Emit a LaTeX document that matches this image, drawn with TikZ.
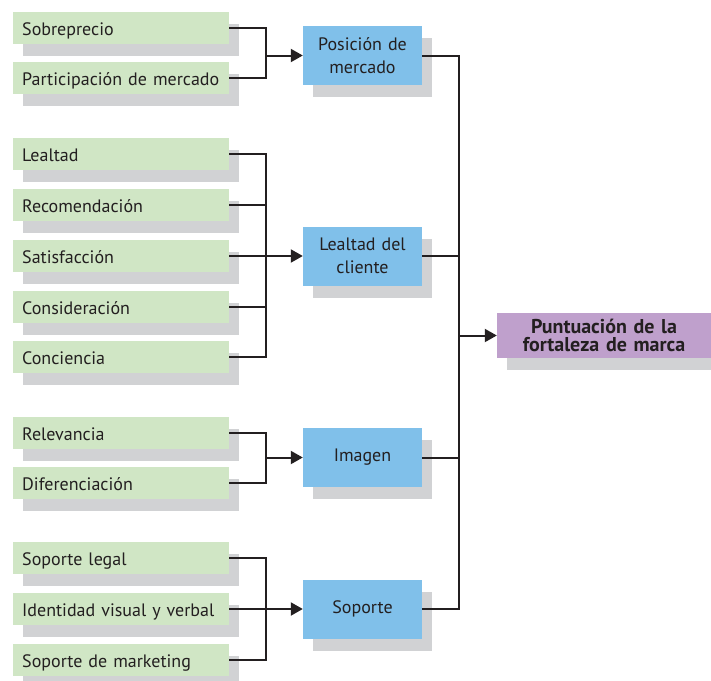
\documentclass[tikz,border=0pt]{standalone}
\usepackage{fontspec}
\setmainfont{PT Sans}
\usepackage{tikz}
\usetikzlibrary{arrows.meta,shadows}

\definecolor{inkgray}{RGB}{35,31,32}
\definecolor{itemgreen}{RGB}{208,230,197}
\definecolor{groupblue}{RGB}{128,192,234}
\definecolor{scorepurple}{RGB}{191,160,204}
\definecolor{shadegray}{RGB}{209,210,212}

\tikzset{
  boxshade/.style={drop shadow={shadow xshift=10pt, shadow yshift=-12pt, fill=shadegray, opacity=1}},
  itembox/.style={boxshade, fill=itemgreen, anchor=west, minimum height=32pt,
    text width=198pt, inner xsep=9pt, inner ysep=0pt, align=left,
    text height=17pt, text depth=2pt},
  groupbox/.style={boxshade, fill=groupblue, minimum width=119pt, minimum height=59pt,
    text width=111pt, inner xsep=4pt, inner ysep=0pt, align=center},
  scorebox/.style={boxshade, fill=scorepurple, minimum width=214pt, minimum height=45pt,
    text width=206pt, inner xsep=4pt, inner ysep=0pt, align=center,
    font=\fontsize{20}{18.5}\selectfont\bfseries},
  conn/.style={draw=inkgray, line width=2pt},
  arr/.style={conn, -{Triangle[length=12pt, width=13pt]}}
}

\begin{document}
\begin{tikzpicture}[x=1pt, y=-1pt, text=inkgray, every node/.style={font=\fontsize{18}{23}\selectfont}]
    \useasboundingbox (0,0) rectangle (711,680);
    \coordinate (brk) at (266,0);
    \coordinate (bus) at (459,0);

    % Posicion de mercado
    \node[itembox] (sobre) at (13,28) {Sobreprecio};
    \node[itembox] (part) at (13,78) {Participación de mercado};
    \node[groupbox] (pos) at (362.5,55.5) {Posición de\\mercado};
    \draw[conn] (sobre.east) -| (part.east -| brk) -- (part.east);
    \draw[arr] (pos.west -| brk) -- (pos.west);

    % Lealtad del cliente
    \node[itembox] (leal) at (13,154) {Lealtad};
    \node[itembox] (recom) at (13,205) {Recomendación};
    \node[itembox] (satis) at (13,256) {Satisfacción};
    \node[itembox] (consid) at (13,307) {Consideración};
    \node[itembox] (conc) at (13,357) {Conciencia};
    \node[groupbox] (cli) at (362.5,256) {Lealtad del\\cliente};
    \draw[conn] (leal.east) -| (conc.east -| brk) -- (conc.east);
    \draw[conn] (recom.east) -- (recom.east -| brk);
    \draw[conn] (consid.east) -- (consid.east -| brk);
    \draw[arr] (satis.east) -- (cli.west);

    % Imagen
    \node[itembox] (relev) at (13,433) {Relevancia};
    \node[itembox] (difer) at (13,483) {Diferenciación};
    \node[groupbox] (ima) at (362.5,457.5) {Imagen};
    \draw[conn] (relev.east) -| (difer.east -| brk) -- (difer.east);
    \draw[arr] (ima.west -| brk) -- (ima.west);

    % Soporte
    \node[itembox] (legal) at (13,558) {Soporte legal};
    \node[itembox] (ident) at (13,609) {Identidad visual y verbal};
    \node[itembox] (mkt) at (13,660) {Soporte de marketing};
    \node[groupbox] (sop) at (362.5,609) {Soporte};
    \draw[conn] (legal.east) -| (mkt.east -| brk) -- (mkt.east);
    \draw[arr] (ident.east) -- (sop.west);

    % Puntuacion
    \node[scorebox] (punt) at (604,335.5) {Puntuación de la\\fortaleza de marca};
    \draw[conn] (pos.east) -| (sop.east -| bus) -- (sop.east);
    \draw[conn] (cli.east) -- (cli.east -| bus);
    \draw[conn] (ima.east) -- (ima.east -| bus);
    \draw[arr] (punt.west -| bus) -- (punt.west);
\end{tikzpicture}
\end{document}
